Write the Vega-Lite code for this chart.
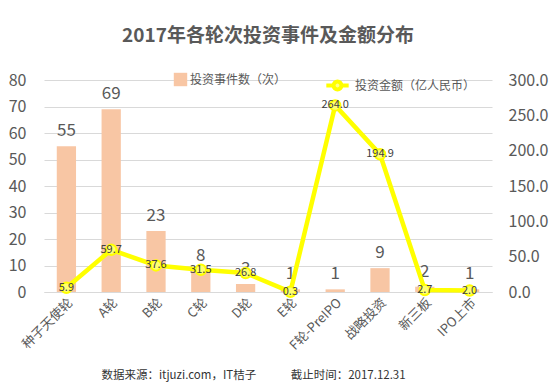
{
  "$schema": "https://vega.github.io/schema/vega-lite/v6.json",
  "autosize": "none",
  "width": 448,
  "height": 212,
  "padding": {"left": 44, "top": 80, "right": 65, "bottom": 100},
  "background": "white",
  "config": {
    "font": "Noto Sans CJK SC",
    "view": {"stroke": null},
    "axis": {"labelFont": "Noto Sans CJK SC", "titleFont": "Noto Sans CJK SC"},
    "legend": {"labelFont": "Noto Sans CJK SC"}
  },
  "title": {
    "text": "2017年各轮次投资事件及金额分布",
    "fontSize": 19,
    "fontWeight": "bold",
    "color": "#595959",
    "anchor": "middle",
    "offset": 26
  },
  "data": {
    "values": [
      {"cat": "种子天使轮", "count": 55, "amount": 5.9, "s1": "投资事件数（次）", "s2": "投资金额（亿人民币）"},
      {"cat": "A轮", "count": 69, "amount": 59.7, "s1": "投资事件数（次）", "s2": "投资金额（亿人民币）"},
      {"cat": "B轮", "count": 23, "amount": 37.6, "s1": "投资事件数（次）", "s2": "投资金额（亿人民币）"},
      {"cat": "C轮", "count": 8, "amount": 31.5, "s1": "投资事件数（次）", "s2": "投资金额（亿人民币）"},
      {"cat": "D轮", "count": 3, "amount": 26.8, "s1": "投资事件数（次）", "s2": "投资金额（亿人民币）"},
      {"cat": "E轮", "count": 1, "amount": 0.3, "s1": "投资事件数（次）", "s2": "投资金额（亿人民币）"},
      {"cat": "F轮-PreIPO", "count": 1, "amount": 264.0, "s1": "投资事件数（次）", "s2": "投资金额（亿人民币）"},
      {"cat": "战略投资", "count": 9, "amount": 194.9, "s1": "投资事件数（次）", "s2": "投资金额（亿人民币）"},
      {"cat": "新三板", "count": 2, "amount": 2.7, "s1": "投资事件数（次）", "s2": "投资金额（亿人民币）"},
      {"cat": "IPO上市", "count": 1, "amount": 2.0, "s1": "投资事件数（次）", "s2": "投资金额（亿人民币）"}
    ]
  },
  "encoding": {
    "x": {
      "field": "cat",
      "type": "nominal",
      "sort": null,
      "scale": {"paddingInner": 0, "paddingOuter": 0},
      "axis": {
        "title": "数据来源：itjuzi.com，IT桔子　　　截止时间：2017.12.31",
        "titleFontSize": 11.5,
        "titleFontWeight": "normal",
        "titleColor": "#333333",
        "titleX": 209,
        "titleY": 83,
        "titleBaseline": "middle",
        "labelAngle": -45,
        "labelAlign": "right",
        "labelBaseline": "top",
        "labelFontSize": 13,
        "labelColor": "#595959",
        "labelPadding": 4,
        "labelOverlap": false,
        "ticks": false,
        "domain": true,
        "domainColor": "#D9D9D9"
      }
    }
  },
  "layer": [
    {
      "encoding": {
        "y": {
          "field": "count",
          "type": "quantitative",
          "scale": {"domain": [0, 80]},
          "axis": {
            "title": null,
            "values": [0, 10, 20, 30, 40, 50, 60, 70, 80],
            "labelOverlap": false,
            "labelFontSize": 16,
            "labelColor": "#595959",
            "labelPadding": 18,
            "ticks": false,
            "domain": false,
            "grid": true,
            "gridColor": "#D9D9D9"
          }
        }
      },
      "layer": [
        {
          "mark": {"type": "bar", "width": {"band": 0.43}},
          "encoding": {
            "color": {
              "field": "s1",
              "type": "nominal",
              "scale": {"range": ["#F8C6A4"]},
              "legend": {
                "title": null,
                "orient": "none",
                "legendX": 129,
                "legendY": -8,
                "symbolType": "square",
                "symbolSize": 180,
                "labelFontSize": 12,
                "labelColor": "#595959",
                "labelOffset": 2
              }
            }
          }
        },
        {
          "mark": {"type": "text", "baseline": "bottom", "dy": -6, "fontSize": 17, "color": "#595959"},
          "encoding": {
            "text": {"field": "count", "type": "quantitative"}
          }
        }
      ]
    },
    {
      "encoding": {
        "y": {
          "field": "amount",
          "type": "quantitative",
          "scale": {"domain": [0, 300]},
          "axis": {
            "orient": "right",
            "title": null,
            "values": [0, 50, 100, 150, 200, 250, 300],
            "labelOverlap": false,
            "format": ".1f",
            "labelFontSize": 16,
            "labelColor": "#595959",
            "labelPadding": 16,
            "ticks": false,
            "domain": false,
            "grid": false
          }
        }
      },
      "layer": [
        {
          "mark": {"type": "line", "strokeWidth": 4.5},
          "encoding": {
            "stroke": {
              "field": "s2",
              "type": "nominal",
              "scale": {"range": ["#FFFF00"]},
              "legend": {
                "title": null,
                "orient": "none",
                "legendX": 280,
                "legendY": -8,
                "symbolType": "M-1,0L-0.35,0M0.35,0L1,0M0.35,0A0.35,0.35,0,1,1,-0.35,0A0.35,0.35,0,1,1,0.35,0",
                "symbolStrokeWidth": 4,
                "symbolSize": 500,
                "symbolFillColor": "#FFFF90",
                "labelFontSize": 12,
                "labelColor": "#595959",
                "labelOffset": 4
              }
            }
          }
        },
        {
          "mark": {"type": "point", "filled": true, "size": 110, "fill": "#FFFF70", "stroke": "#FFFF00", "strokeWidth": 2, "opacity": 1}
        },
        {
          "mark": {"type": "text", "baseline": "middle", "fontSize": 11, "color": "#404040"},
          "encoding": {
            "text": {"field": "amount", "type": "quantitative", "format": ".1f"}
          }
        }
      ]
    }
  ],
  "resolve": {"scale": {"y": "independent"}}
}
